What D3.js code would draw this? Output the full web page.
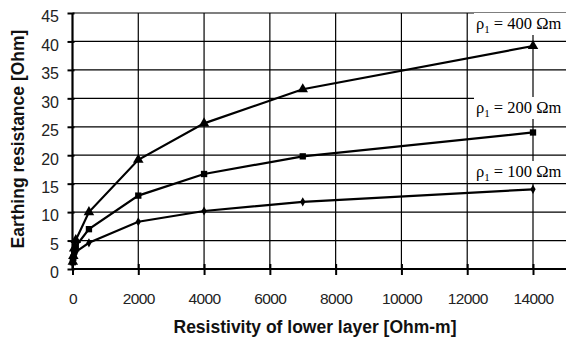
<!DOCTYPE html>
<html><head><meta charset="utf-8">
<script src="https://cdn.jsdelivr.net/npm/d3@7"></script>
<style>body{margin:0;background:#fff}svg{display:block}</style>
</head><body>
<svg id="c" width="566" height="345"></svg>
<script>
const xValues = [10, 25, 50, 100, 500, 2000, 4000, 7000, 14000];
const rho400 = [1.3, 2.3, 3.6, 5.1, 10.0, 19.2, 25.6, 31.6, 39.2];
const rho200 = [1.2, 2.0, 3.0, 4.0, 7.0, 12.9, 16.7, 19.8, 24.0];
const rho100 = [1.0, 1.6, 2.3, 3.0, 4.6, 8.3, 10.2, 11.8, 14.0];
const seriesNames = ["400", "200", "100"];
const xTicks = [0, 2000, 4000, 6000, 8000, 10000, 12000, 14000];
const yTicks = [0, 5, 10, 15, 20, 25, 30, 35, 40, 45];
const xTitle = "Resistivity of lower layer [Ohm-m]";
const yTitle = "Earthing resistance [Ohm]";

const svg = d3.select("#c");
const x = d3.scaleLinear().domain([0, 14000]).range([72.5, 533]);
const y = d3.scaleLinear().domain([0, 45]).range([269, 13]);
const rightEdge = 580;

// grid
const g = svg.append("g");
g.selectAll("line.h").data(yTicks.filter(d => d > 0)).join("line")
  .attr("x1", x(0)).attr("x2", rightEdge)
  .attr("y1", d => y(d)).attr("y2", d => y(d))
  .attr("stroke", "#000").attr("stroke-width", 1.2);
g.selectAll("line.v").data(xTicks.filter(d => d > 0)).join("line")
  .attr("x1", d => x(d)).attr("x2", d => x(d))
  .attr("y1", y(45)).attr("y2", y(0))
  .attr("stroke", "#000").attr("stroke-width", 1.2);

// axes
const xAxis = svg.append("g").attr("transform", `translate(0,${y(0)})`)
  .call(d3.axisBottom(x).tickValues(xTicks).tickSize(6).tickPadding(18).tickFormat(d3.format("d")));
xAxis.select(".domain").remove();
xAxis.append("line").attr("x1", x(0)).attr("x2", rightEdge).attr("stroke", "#000").attr("stroke-width", 2);
xAxis.selectAll(".tick line").attr("y1", -5).attr("y2", 6).attr("stroke-width", 2);
xAxis.selectAll(".tick text").attr("font-family", "Liberation Sans, Arial, sans-serif")
  .attr("font-size", 15.5).attr("fill", "#222").attr("letter-spacing", "-0.6");

const yAxis = svg.append("g").attr("transform", `translate(${x(0)},0)`)
  .call(d3.axisLeft(y).tickValues(yTicks).tickSize(5).tickPadding(9));
yAxis.select(".domain").remove();
yAxis.append("line").attr("y1", y(45)).attr("y2", y(0)).attr("stroke", "#000").attr("stroke-width", 2.2);
yAxis.selectAll(".tick line").attr("x1", -5).attr("x2", 2).attr("stroke-width", 2);
yAxis.selectAll(".tick text").attr("font-family", "Liberation Sans, Arial, sans-serif")
  .attr("font-size", 16).attr("fill", "#222").attr("dy", "0.55em").attr("letter-spacing", "-0.3");

// series
const series = [
  {name: seriesNames[0], vals: rho400, sym: d3.symbolTriangle, size: 48},
  {name: seriesNames[1], vals: rho200, sym: d3.symbolSquare, size: 40},
  {name: seriesNames[2], vals: rho100, sym: d3.symbolDiamond, size: 24}
];
const line = d3.line().x(d => x(d[0])).y(d => y(d[1]));
series.forEach(s => {
  const pts = xValues.map((xv, i) => [xv, s.vals[i]]);
  svg.append("path").attr("d", line(pts)).attr("fill", "none")
    .attr("stroke", "#000").attr("stroke-width", 2.2);
  svg.selectAll(null).data(pts).join("path")
    .attr("d", d3.symbol().type(s.sym).size(s.size))
    .attr("transform", d => `translate(${x(d[0])},${y(d[1])})`)
    .attr("fill", "#000");
});

// labels with white boxes
series.forEach(s => {
  const cy = { "400": 24, "200": 108, "100": 172 }[s.name];
  const lg = svg.append("g").attr("transform", `translate(474,${cy})`);
  lg.append("rect").attr("x", 0).attr("y", -11).attr("width", 100).attr("height", 22).attr("fill", "#fff");
  const t = lg.append("text").attr("x", 2).attr("y", 5)
    .attr("font-family", "Liberation Serif, Times New Roman, serif").attr("font-size", 16.5).attr("fill", "#000");
  t.append("tspan").text("ρ");
  t.append("tspan").attr("font-size", 11).attr("dy", 4).text("1");
  t.append("tspan").attr("dy", -4).text(` = ${s.name} Ωm`);
});

// titles
svg.append("text").attr("x", 315).attr("y", 333).attr("text-anchor", "middle")
  .attr("font-family", "Liberation Sans, Arial, sans-serif").attr("font-weight", "bold")
  .attr("font-size", 17.5).attr("fill", "#111").text(xTitle);
svg.append("text").attr("transform", "translate(24,139) rotate(-90)").attr("text-anchor", "middle")
  .attr("font-family", "Liberation Sans, Arial, sans-serif").attr("font-weight", "bold")
  .attr("font-size", 17.5).attr("fill", "#111").text(yTitle);
</script>
</body></html>
